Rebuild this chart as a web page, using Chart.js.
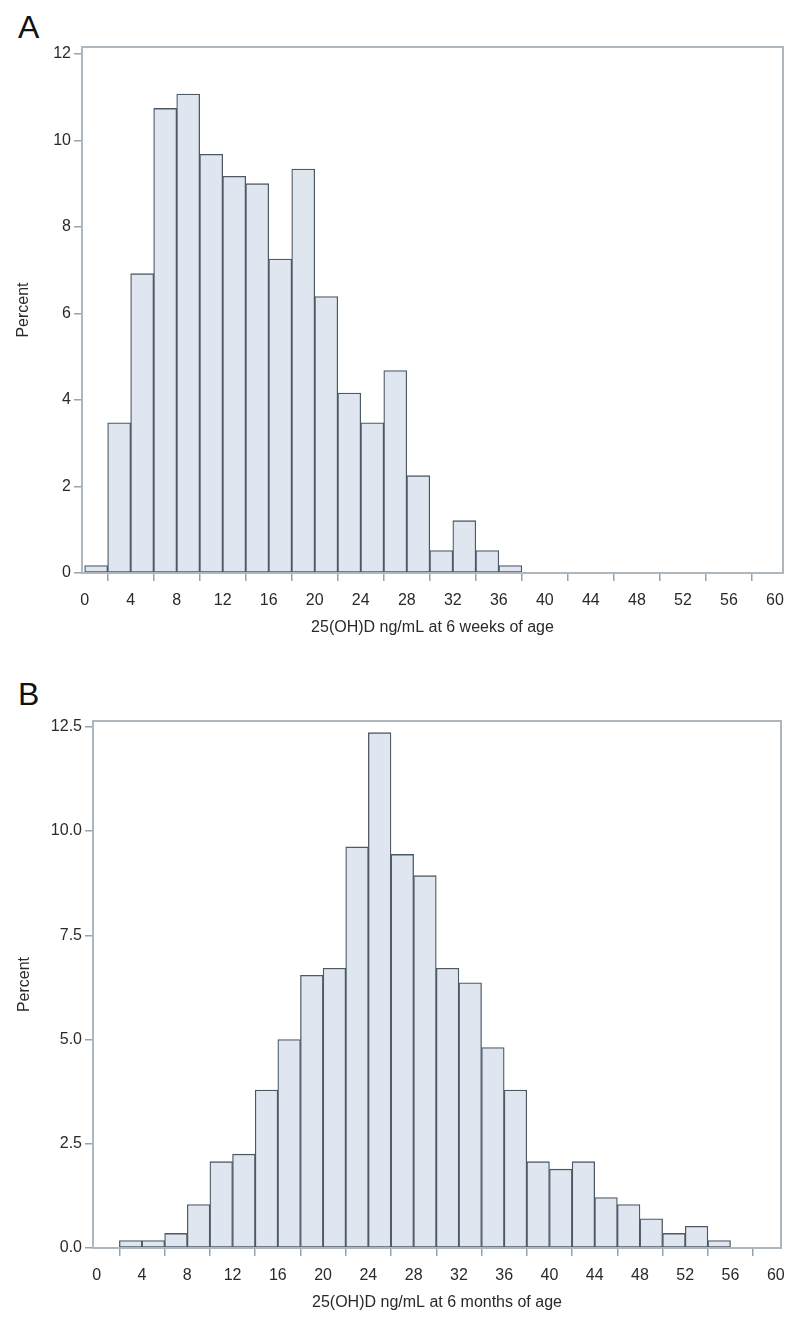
<!DOCTYPE html>
<html>
<head>
<meta charset="utf-8">
<script src="https://cdn.jsdelivr.net/npm/chart.js@4.4.1/dist/chart.umd.min.js"></script>
<style>
  html, body { margin:0; padding:0; background:#fff; }
  #wrap { position:relative; width:800px; height:1330px; overflow:hidden; }
  canvas { position:absolute; left:0; }
  .panel { position:absolute; left:18px; font-family:"Liberation Sans", Arial, sans-serif; font-size:32px; color:#111; line-height:1; }
</style>
</head>
<body>
<div id="wrap">
  <div class="panel" style="top:11px;">A</div>
  <canvas id="cA" width="800" height="660" style="top:0px;"></canvas>
  <div class="panel" style="top:678px;">B</div>
  <canvas id="cB" width="800" height="670" style="top:660px;"></canvas>
</div>
<script>
// ---- data ----
const binWidth = 2;
const xTicks = [0,4,8,12,16,20,24,28,32,36,40,44,48,52,56,60];

const binStartA = [0,2,4,6,8,10,12,14,16,18,20,22,24,26,28,30,32,34,36];
const percentA  = [0.17,3.47,6.92,10.74,11.07,9.68,9.17,9.0,7.26,9.34,6.39,4.16,3.47,4.68,2.25,0.52,1.21,0.52,0.17];
const yTicksA   = [0,2,4,6,8,10,12];
const xTitleA   = '25(OH)D ng/mL at 6 weeks of age';

const binStartB = [2,4,6,8,10,12,14,16,18,20,22,24,26,28,30,32,34,36,38,40,42,44,46,48,50,52,54];
const percentB  = [0.18,0.18,0.35,1.04,2.07,2.25,3.79,5.0,6.54,6.71,9.62,12.36,9.44,8.93,6.71,6.36,4.81,3.79,2.07,1.89,2.07,1.21,1.04,0.70,0.35,0.52,0.18];
const yTicksB   = [0,2.5,5,7.5,10,12.5];
const xTitleB   = '25(OH)D ng/mL at 6 months of age';
const yTitle    = 'Percent';

// ---- styling ----
const FONT = '"Liberation Sans", Arial, sans-serif';
const frameColor = '#aeb6be';
const tickColor = '#9aa2a9';
const textColor = '#2a2a2a';

const framePlugin = {
  id: 'frame',
  afterDatasetsDraw(chart) {
    const a = chart.chartArea, ctx = chart.ctx;
    ctx.save();
    ctx.strokeStyle = frameColor;
    ctx.lineWidth = 2;
    ctx.strokeRect(a.left, a.top, a.right - a.left, a.bottom - a.top);
    ctx.restore();
  }
};

function makeChart(id, starts, values, yTicks, yFmt, xTitle, cfg) {
  const data = starts.map((s, i) => ({ x: s + binWidth / 2, y: values[i] }));
  return new Chart(document.getElementById(id), {
    type: 'bar',
    data: { datasets: [{
      data,
      backgroundColor: '#dfe6f0',
      borderColor: '#4c5a65',
      borderWidth: 1.3,
      borderSkipped: false,
      barPercentage: 1,
      categoryPercentage: 1,
      grouped: false
    }]},
    options: {
      responsive: false,
      animation: false,
      events: [],
      layout: { padding: cfg.padding },
      plugins: { legend: { display: false }, tooltip: { enabled: false } },
      scales: {
        x: {
          type: 'linear',
          offset: false,
          min: cfg.xmin, max: cfg.xmax,
          afterBuildTicks: s => { s.ticks = xTicks.map(v => ({ value: v })); },
          afterFit: s => { s.height = cfg.xAxisH; },
          grid: { display: true, drawOnChartArea: false, drawTicks: true, tickLength: 8, color: tickColor, lineWidth: 1.5 },
          border: { display: false },
          ticks: { color: textColor, font: { family: FONT, size: 16 }, padding: 10, maxRotation: 0, autoSkip: false },
          title: { display: true, text: xTitle, color: textColor, font: { family: FONT, size: 16 }, padding: 0 }
        },
        y: {
          min: 0, max: cfg.ymax,
          afterBuildTicks: s => { s.ticks = yTicks.map(v => ({ value: v })); },
          afterFit: s => { s.width = cfg.yAxisW; },
          grid: { display: true, drawOnChartArea: false, drawTicks: true, tickLength: 8, color: tickColor, lineWidth: 1.5 },
          border: { display: false },
          ticks: { color: textColor, font: { family: FONT, size: 16 }, padding: 3, callback: yFmt },
          title: { display: true, text: yTitle, color: textColor, font: { family: FONT, size: 16 }, padding: 0 }
        }
      }
    },
    plugins: [framePlugin]
  });
}

makeChart('cA', binStartA, percentA, yTicksA, v => String(v), xTitleA, {
  padding: { left: 14, top: 47, right: 17, bottom: 23 },
  xmin: -0.23, xmax: 60.7, ymax: 12.16, xAxisH: 64, yAxisW: 68
});
makeChart('cB', binStartB, percentB, yTicksB, v => v.toFixed(1), xTitleB, {
  padding: { left: 15, top: 61, right: 19, bottom: 18 },
  xmin: -0.33, xmax: 60.46, ymax: 12.64, xAxisH: 64, yAxisW: 78
});
</script>
</body>
</html>
